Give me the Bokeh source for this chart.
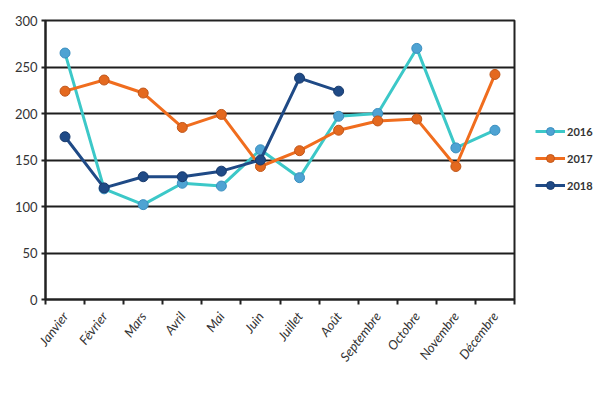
import math
from bokeh.plotting import figure
from bokeh.models import Range1d, FixedTicker, Legend, LegendItem
from bokeh.embed import file_html
from bokeh.resources import INLINE

months = ["Janvier", "Février", "Mars", "Avril", "Mai", "Juin", "Juillet",
          "Août", "Septembre", "Octobre", "Novembre", "Décembre"]
v2016 = [265, 119, 102, 125, 122, 161, 131, 197, 200, 270, 163, 182]
v2017 = [224, 236, 222, 185, 199, 143, 160, 182, 192, 194, 143, 242]
v2018 = [175, 120, 132, 132, 138, 150, 238, 224]
y_ticks = [0, 50, 100, 150, 200, 250, 300]

xs = [i + 0.5 for i in range(len(months))]
bounds = list(range(len(months) + 1))

p = figure(frame_width=469, frame_height=279, output_backend="svg",
           toolbar_location=None,
           x_range=Range1d(0, len(months)), y_range=Range1d(0, 300),
           min_border_left=45, min_border_right=78, min_border_top=20,
           min_border_bottom=85)
p.outline_line_color = "#222222"
p.outline_line_width = 2

# axes
p.xaxis.ticker = FixedTicker(ticks=xs, minor_ticks=bounds)
p.xaxis.major_label_overrides = {x: m for x, m in zip(xs, months)}
p.xaxis.major_label_orientation = 0.92
p.xaxis.major_tick_out = 0
p.xaxis.major_tick_in = 0
p.xaxis.minor_tick_out = 5
p.xaxis.minor_tick_in = 0
p.xaxis.minor_tick_line_color = "#222222"
p.xaxis.minor_tick_line_width = 2
p.xaxis.axis_line_color = "#222222"
p.xaxis.axis_line_width = 2
p.xaxis.major_label_text_font = "Lato"
p.xaxis.major_label_text_font_style = "italic"
p.xaxis.major_label_text_font_size = "13px"
p.xaxis.major_label_text_color = "#333333"
p.xaxis.major_label_standoff = 9

p.yaxis.ticker = FixedTicker(ticks=y_ticks)
p.yaxis.major_tick_out = 4
p.yaxis.major_tick_in = 0
p.yaxis.minor_tick_line_color = None
p.yaxis.major_tick_line_color = "#222222"
p.yaxis.major_tick_line_width = 2
p.yaxis.axis_line_color = "#222222"
p.yaxis.axis_line_width = 2
p.yaxis.major_label_text_font = "Lato"
p.yaxis.major_label_text_font_size = "13px"
p.yaxis.major_label_text_color = "#333333"
p.yaxis.major_label_standoff = 4

p.xgrid.visible = False
p.ygrid.ticker = FixedTicker(ticks=y_ticks)
p.ygrid.grid_line_color = "#1e1e1e"
p.ygrid.grid_line_width = 2

series = [
    ("2016", v2016, "#3cc8c8", "#4ea3d3", "#3b8fc0"),
    ("2017", v2017, "#f06d1e", "#e4691f", "#c0561a"),
    ("2018", v2018, "#1f4a86", "#1f4a86", "#183a6c"),
]
items = []
for name, vals, lc, fc, oc in series:
    x = xs[:len(vals)]
    l = p.line(x, vals, line_color=lc, line_width=3)
    s = p.scatter(x, vals, size=10, fill_color=fc, line_color=oc, line_width=1)
    items.append(LegendItem(label=name, renderers=[l, s]))

legend = Legend(items=items, location=(21, 104), orientation="vertical",
                border_line_color=None, background_fill_alpha=0,
                padding=0, margin=0, spacing=7, glyph_width=30,
                glyph_height=20, label_standoff=2,
                label_text_font="Lato", label_text_font_size="11px",
                label_text_font_style="bold", label_text_color="#333333")
p.add_layout(legend, "right")

open("out.html", "w").write(file_html(p, INLINE))
